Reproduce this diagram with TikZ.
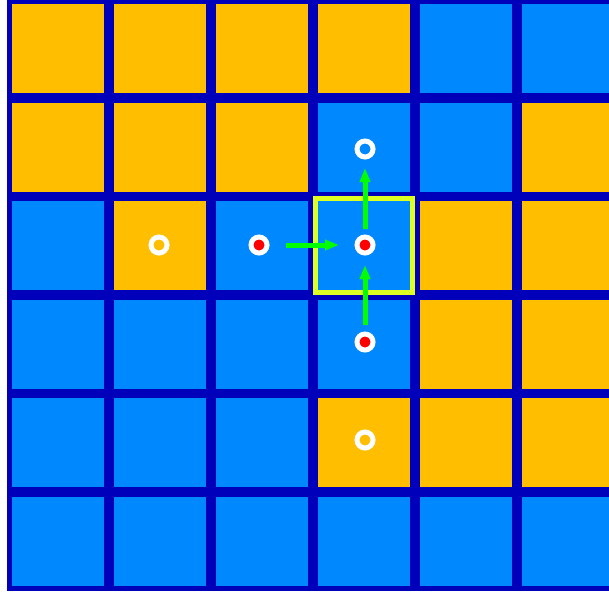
\documentclass[tikz,border=0pt]{standalone}
\usepackage{tikz}
\usetikzlibrary{arrows.meta}

\definecolor{gridblue}{HTML}{0000BB}
\definecolor{org}{HTML}{FFBF00}
\definecolor{blu}{HTML}{0088FF}
\definecolor{frameyellow}{HTML}{DDFF22}
\definecolor{movegreen}{HTML}{00FF00}
\definecolor{dotred}{HTML}{FF0000}

\tikzset{
  ring/.style={circle, draw=white, line width=5pt, minimum size=16pt, inner sep=0pt, outer sep=0pt},
  move/.style={movegreen, line width=5pt, -{Triangle[length=14pt, width=10pt]}},
}

\begin{document}
\begin{tikzpicture}[x=1pt, y=-1pt]

% --- page and clipping ---
\useasboundingbox (0,0) rectangle (609,594);
\clip (0,0) rectangle (609,594);
\fill[white] (0,0) rectangle (609,594);

% --- dark grid behind the tiles ---
\fill[gridblue] (7,-5) rectangle (620,591);

% --- tiles, row by row ---
\foreach \clist [count=\r from 0] in {
    {org,org,org,org,blu,blu},
    {org,org,org,blu,blu,org},
    {blu,org,blu,blu,org,org},
    {blu,blu,blu,blu,org,org},
    {blu,blu,blu,org,org,org},
    {blu,blu,blu,blu,blu,blu}}
  \foreach \c [count=\k from 0] in \clist
    \fill[\c] ({12+102*\k},{4+98.6*\r}) rectangle ++(92,89);

% --- highlighted tile ---
\draw[frameyellow, line width=5pt] (315.5,198.5) rectangle (412.5,292.5);

% --- markers ---
\node[ring, fill=org]    (ringL) at (159,245) {};
\node[ring, fill=dotred] (ringM) at (259,245) {};
\node[ring, fill=dotred] (ringC) at (365,245) {};
\node[ring, fill=blu]    (ringT) at (365,149) {};
\node[ring, fill=dotred] (ringB) at (365,342) {};
\node[ring, fill=org]    (ringS) at (365,440) {};

% --- moves ---
\draw[move, shorten <=19pt, shorten >=18pt] (ringM) -- (ringC);
\draw[move, shorten <=8pt, shorten >=11pt] (ringC) -- (ringT);
\draw[move, shorten <=9pt, shorten >=12pt] (ringB) -- (ringC);

\end{tikzpicture}
\end{document}
